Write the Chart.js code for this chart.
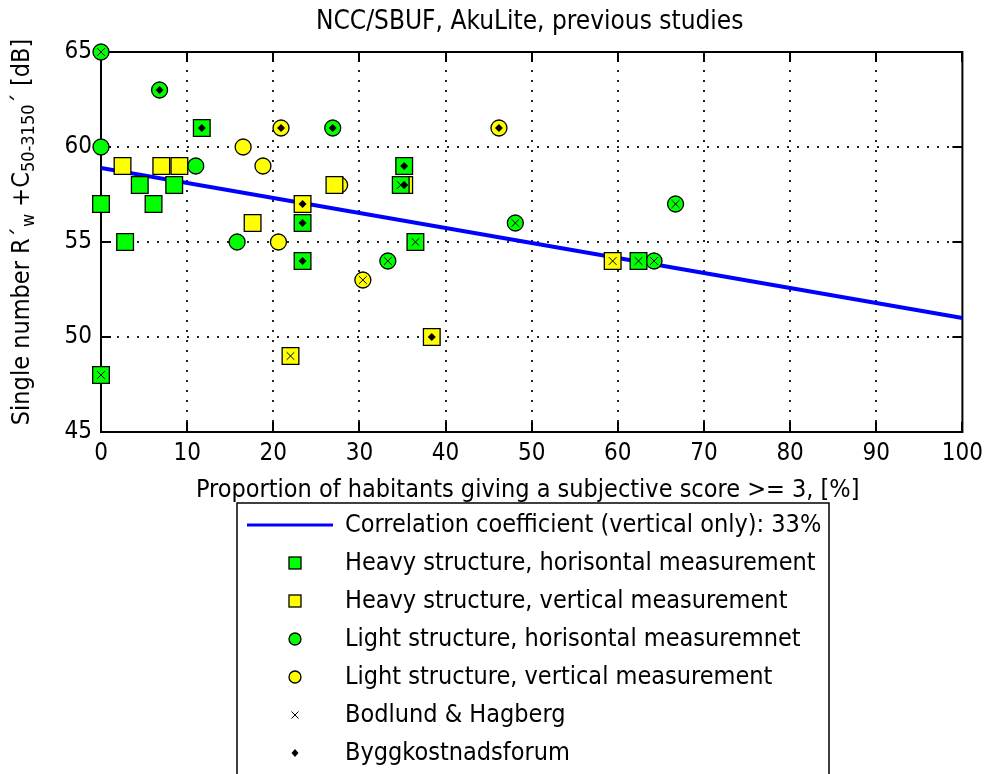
<!DOCTYPE html>
<html>
<head>
<meta charset="utf-8">
<script src="https://cdn.jsdelivr.net/npm/chart.js@4.4.1/dist/chart.umd.min.js"></script>
<style>
  html, body { margin: 0; padding: 0; background: #fff; }
  #wrap { width: 990px; height: 774px; position: relative; }
</style>
</head>
<body>
<div id="wrap"><canvas id="chart" width="990" height="774"></canvas></div>
<script>
const FONT = "'Liberation Sans Narrow', 'DejaVu Sans Condensed', 'Arial Narrow', sans-serif";

// x = proportion of habitants (%), y = single number (dB)
// src: '' plain, 'B' Bodlund & Hagberg, 'F' Byggkostnadsforum
const heavyHorX = [0, 0, 2.8, 4.5, 6.1, 8.5, 11.7, 23.4, 23.4, 35.2, 34.8, 36.5, 62.4];
const heavyHorY = [57, 48, 55, 58, 57, 58, 61, 56, 54, 59, 58, 55, 54];
const heavyHorSrc = ['', 'B', '', '', '', '', 'F', 'F', 'F', 'F', 'B', 'B', 'B'];

const heavyVerX = [2.5, 7.0, 9.1, 17.6, 23.4, 27.1, 35.2, 22.0, 38.4, 59.4];
const heavyVerY = [59, 59, 59, 56, 57, 58, 58, 49, 50, 54];
const heavyVerSrc = ['', '', '', '', 'F', '', 'F', 'B', 'F', 'B'];

const lightHorX = [0, 0, 6.8, 11.0, 15.8, 26.9, 33.3, 48.1, 64.2, 66.7];
const lightHorY = [65, 60, 63, 59, 55, 61, 54, 56, 54, 57];
const lightHorSrc = ['B', '', 'F', '', '', 'F', 'B', 'B', 'B', 'B'];

const lightVerX = [16.5, 18.8, 20.6, 20.9, 27.7, 30.4, 46.2];
const lightVerY = [60, 59, 55, 61, 58, 53, 61];
const lightVerSrc = ['', '', '', 'F', '', 'B', 'F'];

// regression line (vertical only)
const fitX = [0, 100];
const fitY = [58.9, 51.0];

const xTicks = [0, 10, 20, 30, 40, 50, 60, 70, 80, 90, 100];
const yTicks = [45, 50, 55, 60, 65];

const legendLabels = [
  'Correlation coefficient (vertical only): 33%',
  'Heavy structure, horisontal measurement',
  'Heavy structure, vertical measurement',
  'Light structure, horisontal measuremnet',
  'Light structure, vertical measurement',
  'Bodlund & Hagberg',
  'Byggkostnadsforum'
];

const GREEN = '#00ff00';
const YELLOW = '#ffff00';

function pts(xs, ys) {
  return xs.map((x, i) => ({ x: x, y: ys[i] }));
}

// collect overlay points for a given source flag
function bySource(flag) {
  const out = [];
  [[heavyHorX, heavyHorY, heavyHorSrc], [heavyVerX, heavyVerY, heavyVerSrc],
   [lightHorX, lightHorY, lightHorSrc], [lightVerX, lightVerY, lightVerSrc]].forEach(([xs, ys, src]) => {
    src.forEach((s, i) => { if (s.indexOf(flag) >= 0) out.push({ x: xs[i], y: ys[i] }); });
  });
  return out;
}

function marker(style, fill, radius, order) {
  return {
    pointStyle: style,
    pointRadius: radius,
    pointHoverRadius: radius,
    pointBackgroundColor: fill,
    pointBorderColor: '#000',
    pointBorderWidth: 1.3,
    showLine: false,
    clip: false,
    order: order
  };
}

function drawBox(ctx, a) {
  ctx.strokeStyle = '#000';
  ctx.lineWidth = 2;
  ctx.strokeRect(a.left, a.top, a.right - a.left, a.bottom - a.top);
}

const plotDeco = {
  id: 'plotDeco',
  beforeDatasetsDraw(chart) {
    const { ctx, chartArea: a, scales: { x, y } } = chart;
    ctx.save();
    // dotted grid
    ctx.fillStyle = '#222';
    xTicks.forEach(v => {
      if (v === xTicks[0] || v === xTicks[xTicks.length - 1]) return;
      const px = Math.round(x.getPixelForValue(v));
      for (let py = a.top + 8; py < a.bottom - 4; py += 10) ctx.fillRect(px - 1, py, 2, 2);
    });
    yTicks.forEach(v => {
      if (v === yTicks[0] || v === yTicks[yTicks.length - 1]) return;
      const py = Math.round(y.getPixelForValue(v));
      for (let px = a.left + 6; px < a.right - 4; px += 10) ctx.fillRect(px, py - 1, 2, 2);
    });
    // inward ticks
    ctx.strokeStyle = '#000';
    ctx.lineWidth = 2;
    ctx.beginPath();
    xTicks.forEach(v => {
      const px = Math.round(x.getPixelForValue(v));
      ctx.moveTo(px, a.bottom); ctx.lineTo(px, a.bottom - 10);
      ctx.moveTo(px, a.top); ctx.lineTo(px, a.top + 10);
    });
    yTicks.forEach(v => {
      const py = Math.round(y.getPixelForValue(v));
      ctx.moveTo(a.left, py); ctx.lineTo(a.left + 10, py);
      ctx.moveTo(a.right, py); ctx.lineTo(a.right - 10, py);
    });
    ctx.stroke();
    drawBox(ctx, a);
    ctx.restore();
  },
  afterDraw(chart) {
    const { ctx, chartArea: a } = chart;
    ctx.save();
    ctx.fillStyle = '#000';
    const cx = (a.left + a.right) / 2;

    // title
    ctx.font = '26px ' + FONT;
    ctx.textAlign = 'center';
    ctx.textBaseline = 'middle';
    ctx.fillText('NCC/SBUF, AkuLite, previous studies', cx - 2, 22);

    // x title
    ctx.font = '25px ' + FONT;
    ctx.fillText('Proportion of habitants giving a subjective score >= 3, [%]', cx - 4, 490);

    // y title with subscripts
    const main = '25px ' + FONT;
    const sub = '18px ' + FONT;
    const parts = [
      ['Single number R\u00b4', main, 0],
      ['w', sub, 7],
      [' +C', main, 0],
      ['50-3150', sub, 7],
      ['\u00b4 [dB]', main, 0]
    ];
    let total = 0;
    parts.forEach(p => { ctx.font = p[1]; total += ctx.measureText(p[0]).width; });
    ctx.translate(22, 232);
    ctx.rotate(-Math.PI / 2);
    ctx.textAlign = 'left';
    ctx.textBaseline = 'middle';
    let tx = -total / 2;
    parts.forEach(p => {
      ctx.font = p[1];
      ctx.fillText(p[0], tx, p[2]);
      tx += ctx.measureText(p[0]).width;
    });
    ctx.restore();

    drawLegend(ctx);
  }
};

function drawLegend(ctx) {
  const left = 237, top = 503, right = 829;
  const rowY = i => 525 + i * 38;
  const mx = 295;
  ctx.save();
  ctx.fillStyle = '#fff';
  ctx.fillRect(left, top, right - left, 774 - top);
  ctx.strokeStyle = '#000';
  ctx.lineWidth = 1.5;
  ctx.strokeRect(left, top, right - left, 400);

  // line sample
  ctx.strokeStyle = '#0000ff';
  ctx.lineWidth = 3;
  ctx.beginPath();
  ctx.moveTo(247, rowY(0)); ctx.lineTo(333, rowY(0));
  ctx.stroke();

  ctx.strokeStyle = '#000';
  ctx.lineWidth = 1.3;
  // squares
  [GREEN, YELLOW].forEach((c, k) => {
    ctx.fillStyle = c;
    ctx.fillRect(mx - 6, rowY(1 + k) - 6, 12, 12);
    ctx.strokeRect(mx - 6, rowY(1 + k) - 6, 12, 12);
  });
  // circles
  [GREEN, YELLOW].forEach((c, k) => {
    ctx.fillStyle = c;
    ctx.beginPath();
    ctx.arc(mx, rowY(3 + k), 6, 0, Math.PI * 2);
    ctx.fill();
    ctx.stroke();
  });
  // cross
  ctx.lineWidth = 1;
  ctx.beginPath();
  ctx.moveTo(mx - 3.5, rowY(5) - 3.5); ctx.lineTo(mx + 3.5, rowY(5) + 3.5);
  ctx.moveTo(mx + 3.5, rowY(5) - 3.5); ctx.lineTo(mx - 3.5, rowY(5) + 3.5);
  ctx.stroke();
  // diamond
  ctx.fillStyle = '#000';
  ctx.beginPath();
  ctx.moveTo(mx, rowY(6) - 4); ctx.lineTo(mx + 3.5, rowY(6));
  ctx.lineTo(mx, rowY(6) + 4); ctx.lineTo(mx - 3.5, rowY(6));
  ctx.closePath();
  ctx.fill();

  ctx.fillStyle = '#000';
  ctx.font = '25px ' + FONT;
  ctx.textAlign = 'left';
  ctx.textBaseline = 'middle';
  legendLabels.forEach((t, i) => ctx.fillText(t, 345, rowY(i)));
  ctx.restore();
}

const tickFont = { family: FONT, size: 24 };

new Chart(document.getElementById('chart'), {
  type: 'scatter',
  data: {
    datasets: [
      {
        type: 'line',
        label: legendLabels[0],
        data: pts(fitX, fitY),
        borderColor: '#0000ff',
        borderWidth: 4,
        pointRadius: 0,
        fill: false,
        order: 6
      },
      Object.assign({ label: legendLabels[4], data: pts(lightVerX, lightVerY) }, marker('circle', YELLOW, 8, 5)),
      Object.assign({ label: legendLabels[3], data: pts(lightHorX, lightHorY) }, marker('circle', GREEN, 8, 4)),
      Object.assign({ label: legendLabels[2], data: pts(heavyVerX, heavyVerY) }, marker('rect', YELLOW, 11.8, 3)),
      Object.assign({ label: legendLabels[1], data: pts(heavyHorX, heavyHorY) }, marker('rect', GREEN, 11.8, 2)),
      {
        label: legendLabels[5],
        data: bySource('B'),
        pointStyle: 'crossRot',
        pointRadius: 5.5,
        pointBorderColor: '#000',
        pointBorderWidth: 1,
        showLine: false,
        clip: false,
        order: 1
      },
      {
        label: legendLabels[6],
        data: bySource('F'),
        pointStyle: 'rectRot',
        pointRadius: 4,
        pointBackgroundColor: '#000',
        pointBorderColor: '#000',
        pointBorderWidth: 0,
        showLine: false,
        clip: false,
        order: 0
      }
    ]
  },
  options: {
    responsive: false,
    animation: false,
    devicePixelRatio: 1,
    layout: { padding: { top: 52, right: 19, left: 0, bottom: 0 } },
    plugins: {
      legend: { display: false },
      tooltip: { enabled: false },
      title: { display: false }
    },
    scales: {
      x: {
        type: 'linear',
        min: 0,
        max: 100,
        afterBuildTicks: s => { s.ticks = xTicks.map(v => ({ value: v })); },
        afterFit: s => { s.height = 774 - 432; },
        ticks: { font: tickFont, color: '#000', padding: 7, maxRotation: 0, autoSkip: false },
        grid: { display: false, drawTicks: false },
        border: { display: false }
      },
      y: {
        type: 'linear',
        min: 45,
        max: 65,
        afterBuildTicks: s => { s.ticks = yTicks.map(v => ({ value: v })); },
        afterFit: s => { s.width = 101; },
        ticks: { font: tickFont, color: '#000', padding: 9, autoSkip: false },
        grid: { display: false, drawTicks: false },
        border: { display: false }
      }
    }
  },
  plugins: [plotDeco]
});
</script>
</body>
</html>
